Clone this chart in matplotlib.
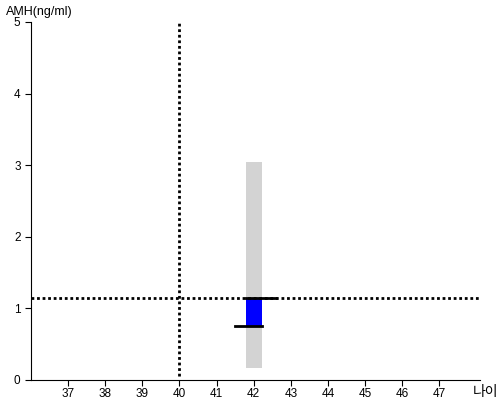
import matplotlib
matplotlib.use("Agg")
import matplotlib.pyplot as plt

plt.rcParams['font.family'] = ['Liberation Sans', 'Noto Sans CJK KR', 'DejaVu Sans']

age = 42
ref_age = 40
range_low, range_high = 0.17, 3.05
amh_value = 1.14
amh_prev = 0.75
bar_width = 0.43

x_ticks = [37, 38, 39, 40, 41, 42, 43, 44, 45, 46, 47]
y_ticks = [0, 1, 2, 3, 4, 5]

fig = plt.figure(figsize=(5, 4), dpi=100)
ax = fig.add_axes([0.062, 0.05, 0.898, 0.895])

ax.bar(age, range_high - range_low, bottom=range_low, width=bar_width,
       color='lightgray', zorder=1)
ax.bar(age, amh_value - amh_prev, bottom=amh_prev, width=bar_width,
       color='blue', zorder=2)
ax.axhline(amh_value, color='black', linestyle=(0, (1, 1)), linewidth=2, zorder=3)
ax.plot([ref_age, ref_age], [0.05, 5], color='black', linestyle=(0, (1, 1)),
        linewidth=2, zorder=3)
ax.plot([age - bar_width / 2, age + 0.6], [amh_value, amh_value],
        color='black', linewidth=2, zorder=4)
ax.plot([age - 0.5, age + bar_width / 2], [amh_prev, amh_prev],
        color='black', linewidth=2, zorder=4)

ax.set_xlim(36, 48.1)
ax.set_ylim(0, 5)
ax.set_xticks(x_ticks)
ax.set_yticks(y_ticks)
ax.tick_params(labelsize=8.5, length=4)
ax.tick_params(axis='x', pad=1.5)
ax.spines['top'].set_visible(False)
ax.spines['right'].set_visible(False)

fig.text(0.012, 0.97, 'AMH(ng/ml)', fontsize=9, ha='left', va='center')
fig.text(0.945, 0.02, '나이', fontsize=10, ha='left', va='center')

fig.savefig('out.png')
